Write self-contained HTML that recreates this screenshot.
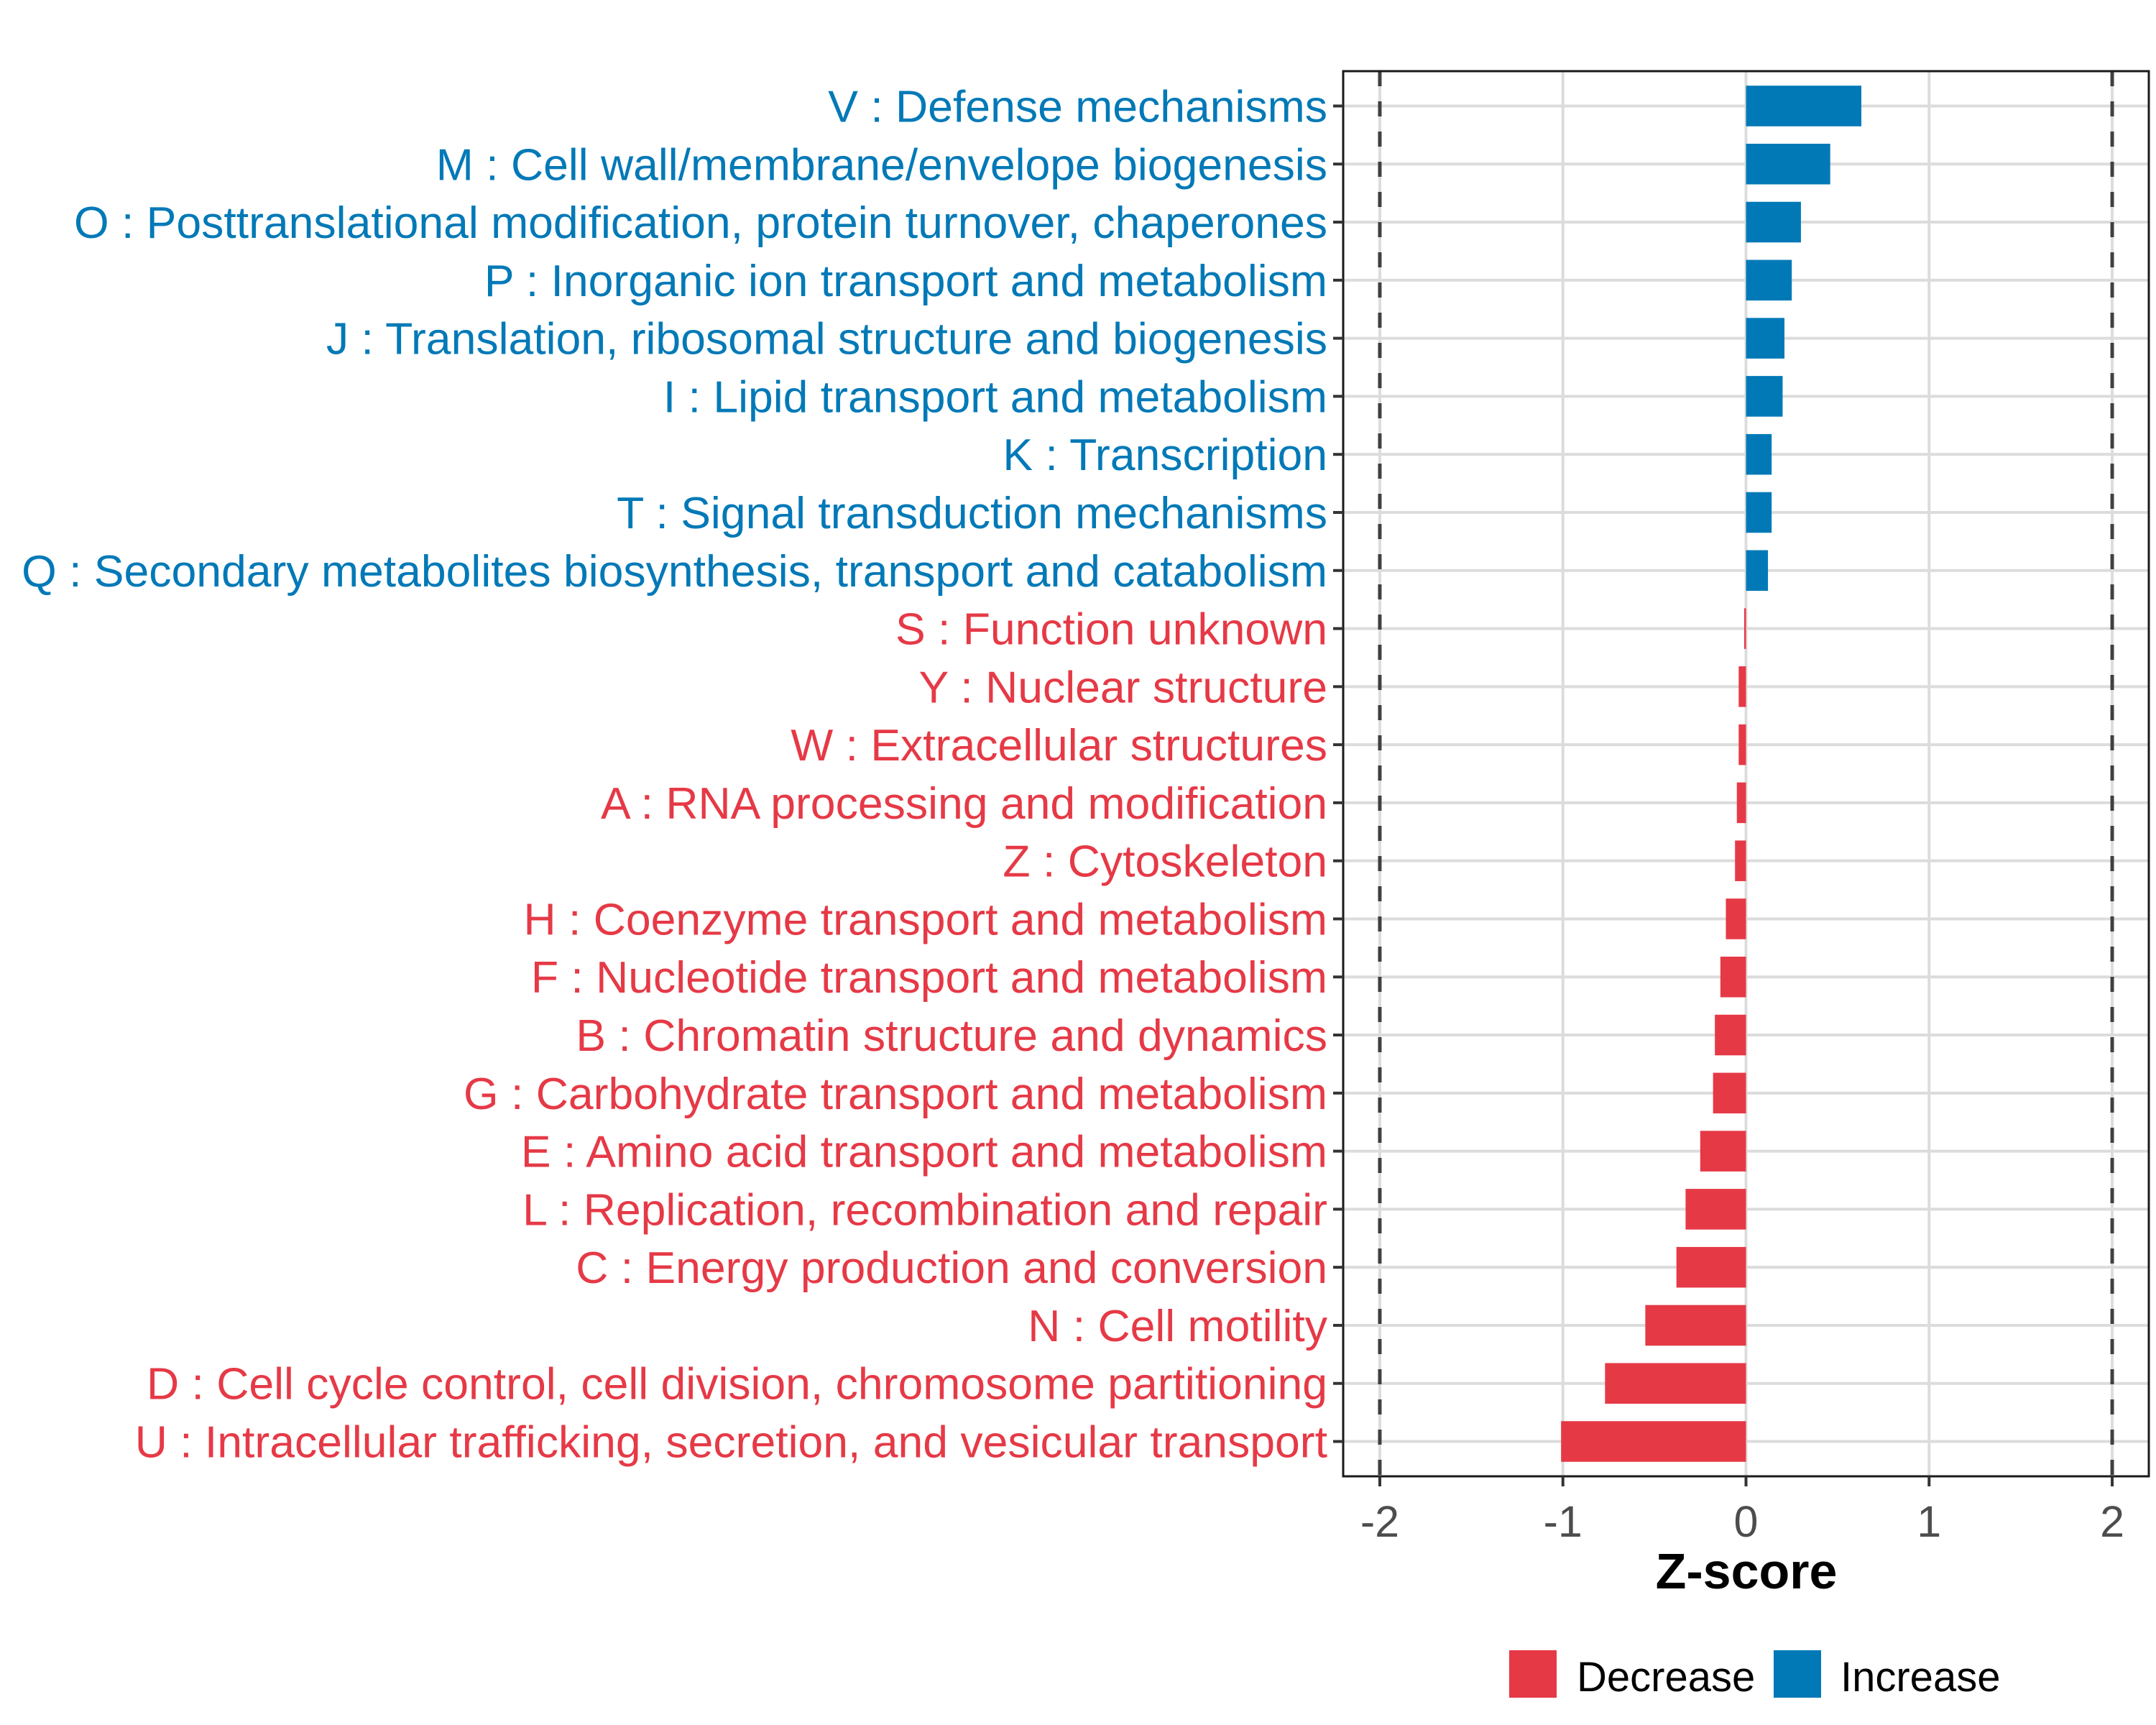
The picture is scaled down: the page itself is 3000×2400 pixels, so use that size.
<!DOCTYPE html>
<html><head><meta charset="utf-8"><style>html,body{margin:0;padding:0;background:#fff}svg{display:block}</style></head>
<body>
<svg id="chart" xmlns="http://www.w3.org/2000/svg" width="3000" height="2400" viewBox="0 0 3000 2400" font-family="Liberation Sans, sans-serif">
<rect width="3000" height="2400" fill="#fff"/>
<g id="grid"></g>
<g id="bars"></g>
<g id="refs"></g>
<rect x="1869" y="99" width="1121" height="1955" fill="none" stroke="#1a1a1a" stroke-width="3"/>
<g id="ylabels"></g>
<g id="xticks"></g>
<text x="2430" y="2210" font-size="70" font-weight="bold" text-anchor="middle" fill="#000">Z-score</text>
<g>
<rect x="2100" y="2296" width="66" height="66" fill="#E63946"/>
<text x="2194" y="2353" font-size="58" fill="#000">Decrease</text>
<rect x="2468" y="2296" width="66" height="66" fill="#0279B7"/>
<text x="2561" y="2353" font-size="58" fill="#000">Increase</text>
</g>
</svg>
<script>
const categories = ["V : Defense mechanisms","M : Cell wall/membrane/envelope biogenesis","O : Posttranslational modification, protein turnover, chaperones","P : Inorganic ion transport and metabolism","J : Translation, ribosomal structure and biogenesis","I : Lipid transport and metabolism","K : Transcription","T : Signal transduction mechanisms","Q : Secondary metabolites biosynthesis, transport and catabolism","S : Function unknown","Y : Nuclear structure","W : Extracellular structures","A : RNA processing and modification","Z : Cytoskeleton","H : Coenzyme transport and metabolism","F : Nucleotide transport and metabolism","B : Chromatin structure and dynamics","G : Carbohydrate transport and metabolism","E : Amino acid transport and metabolism","L : Replication, recombination and repair","C : Energy production and conversion","N : Cell motility","D : Cell cycle control, cell division, chromosome partitioning","U : Intracellular trafficking, secretion, and vesicular transport"];
const zscores = [0.63,0.46,0.30,0.25,0.21,0.20,0.14,0.14,0.12,-0.01,-0.04,-0.04,-0.05,-0.06,-0.11,-0.14,-0.17,-0.18,-0.25,-0.33,-0.38,-0.55,-0.77,-1.01];
const xTicks = [-2,-1,0,1,2];
const xTickLabels = ["-2","-1","0","1","2"];
const refLines = [-2,2];

const NS="http://www.w3.org/2000/svg";
const L=1869,R=2990,T=99,B=2054;
const xmin=-2.2,xmax=2.2;
const x=v=>L+(v-xmin)/(xmax-xmin)*(R-L);
const n=categories.length;
const step=(B-T)/(n-1+1.2);
const y=i=>T+step*0.6+i*step;
function mk(tag,attrs,parent){const e=document.createElementNS(NS,tag);for(const k in attrs)e.setAttribute(k,attrs[k]);parent.appendChild(e);return e;}
const grid=document.getElementById('grid'),bars=document.getElementById('bars'),refs=document.getElementById('refs'),yl=document.getElementById('ylabels'),xt=document.getElementById('xticks');
xTicks.forEach((t,i)=>{
  const g=mk('line',{x1:x(t),x2:x(t),y1:T,y2:B,stroke:'#dcdcdc','stroke-width':4},grid);
  
  
  const tk=mk('line',{x1:x(t),x2:x(t),y1:B,y2:B+14,stroke:'#333','stroke-width':4},xt);
  
  
  const tl=mk('text',{x:x(t),y:2138,'font-size':61,'text-anchor':'middle',fill:'#4d4d4d'},xt);
  tl.textContent=xTickLabels[i];
  
  
});
categories.forEach((c,i)=>{
  const yy=y(i);
  const g=mk('line',{x1:L,x2:R,y1:yy,y2:yy,stroke:'#dcdcdc','stroke-width':4},grid);
  
  
  const v=zscores[i];
  const col=v>=0?'#0279B7':'#E63946';
  const bh=step*0.7;
  const b=mk('rect',{x:Math.min(x(0),x(v)),y:yy-bh/2,width:Math.max(Math.abs(x(v)-x(0)),2),height:bh,fill:col},bars);
  
  
  const tk=mk('line',{x1:L-14,x2:L,y1:yy,y2:yy,stroke:'#333','stroke-width':4},yl);
  
  
  const t=mk('text',{x:1847,y:yy+22,'font-size':62.5,'text-anchor':'end',fill:col},yl);
  t.textContent=c;
  
  
});
refLines.forEach(r=>{
  const l=mk('line',{x1:x(r),x2:x(r),y1:T,y2:B,stroke:'#404040','stroke-width':5,'stroke-dasharray':'21 21'},refs);
  
  
});
</script>
</body></html>
